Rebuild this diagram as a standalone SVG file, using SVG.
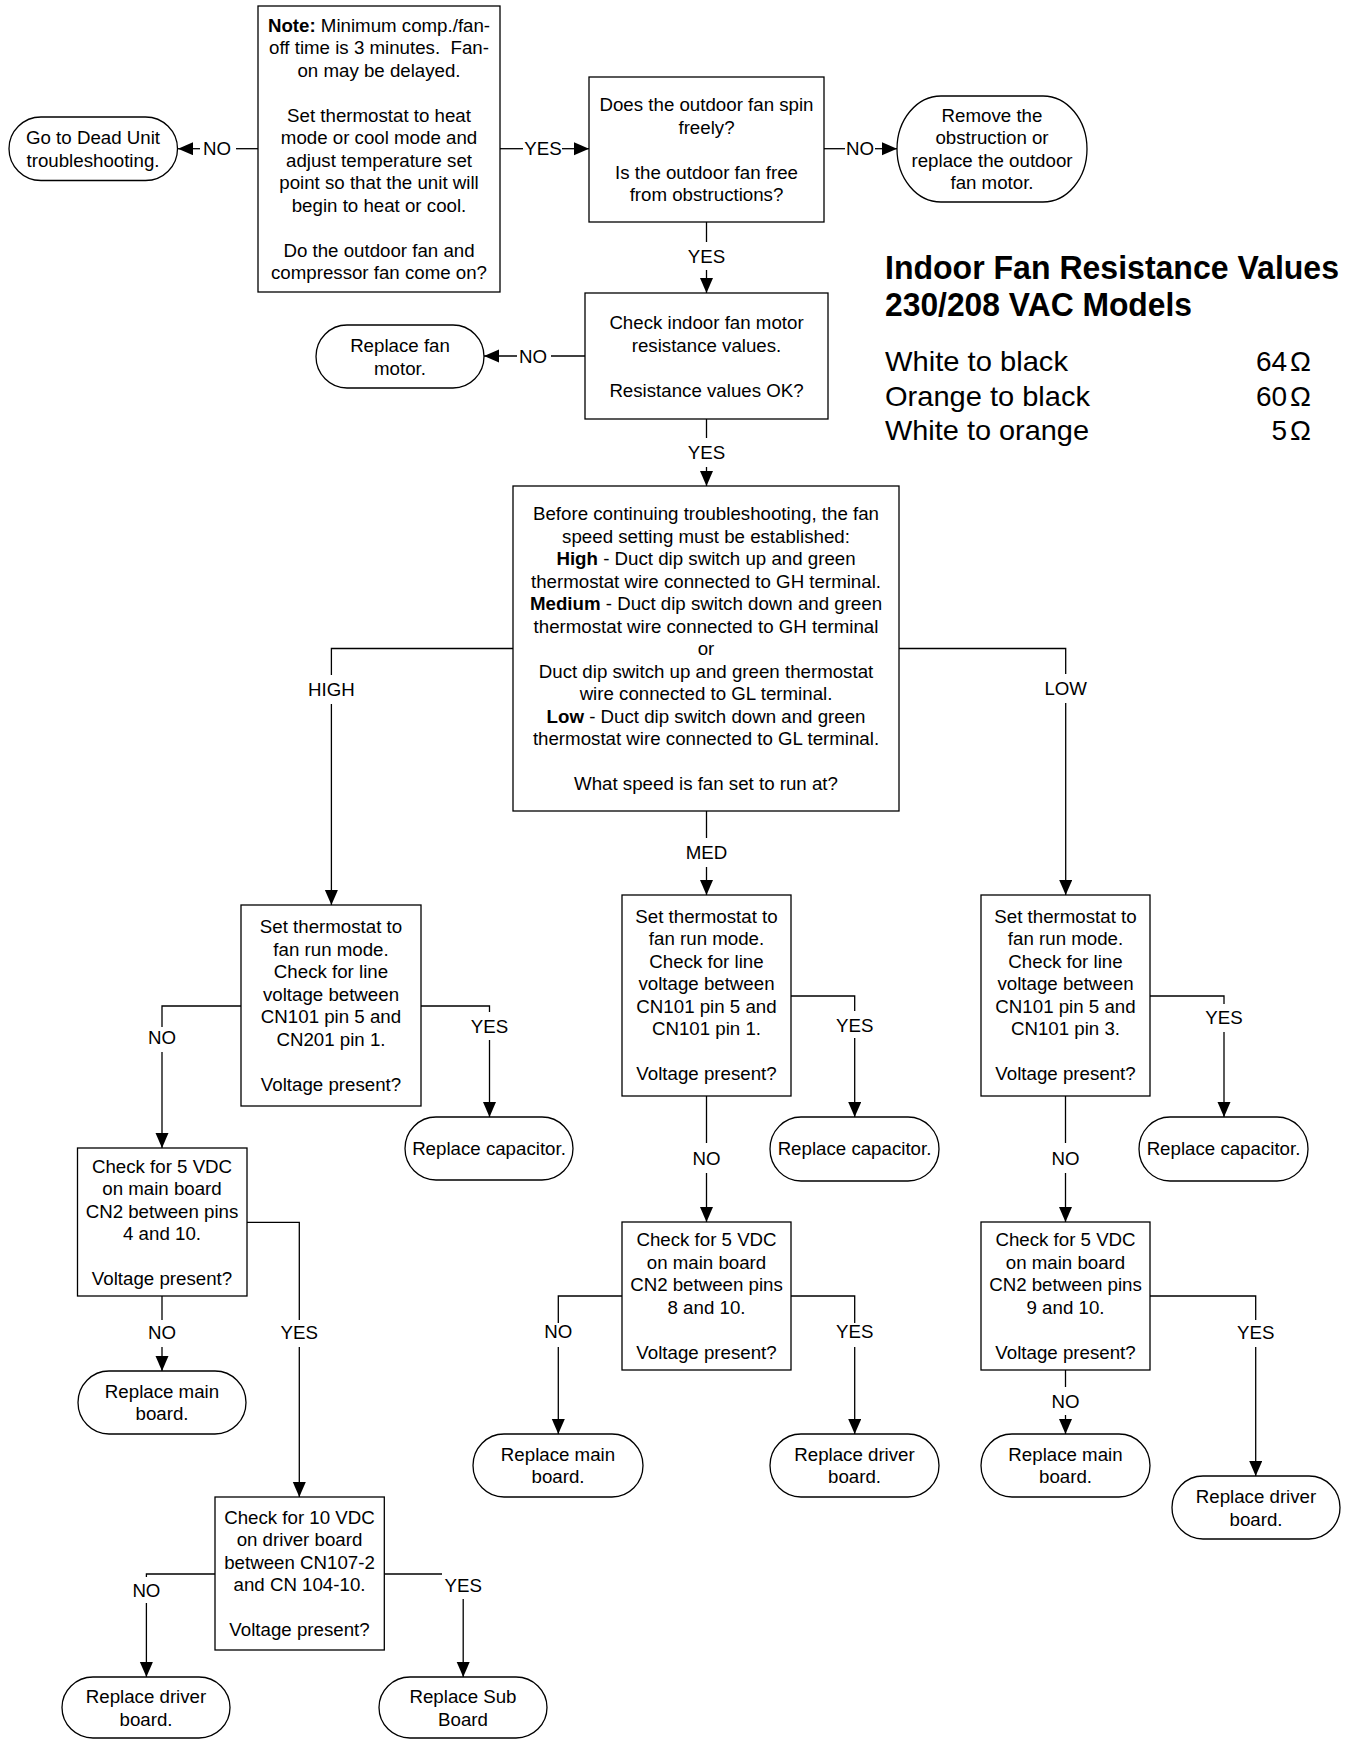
<svg xmlns="http://www.w3.org/2000/svg" width="1351" height="1739" viewBox="0 0 1351 1739">
<defs>
<style>
.t{font-family:"Liberation Sans",Arial,sans-serif;font-size:18.7px;fill:#000;text-anchor:middle}
.b{font-weight:bold}
.box{fill:#fff;stroke:#000;stroke-width:1.3}
.ln{fill:none;stroke:#000;stroke-width:1.3}
.h{font-family:"Liberation Sans",Arial,sans-serif;font-weight:bold;font-size:33px;fill:#000}
.r{font-family:"Liberation Sans",Arial,sans-serif;font-size:28px;fill:#000}
</style>
<marker id="arr" markerUnits="userSpaceOnUse" markerWidth="16" markerHeight="14" refX="15" refY="6.5" orient="auto"><path d="M0,0 L15,6.5 L0,13 z" fill="#000"/></marker>
</defs>
<rect width="1351" height="1739" fill="#fff"/>

<g id="connectors">
<path class="ln" d="M258,148.7 H236"/><text class="t" x="217" y="155.4">NO</text><path class="ln" d="M200,148.7 H178" marker-end="url(#arr)"/>
<path class="ln" d="M500,148.7 H523"/><text class="t" x="543" y="155.4">YES</text><path class="ln" d="M562,148.7 H589" marker-end="url(#arr)"/>
<path class="ln" d="M824,148.7 H845"/><text class="t" x="860" y="155.4">NO</text><path class="ln" d="M875,148.7 H897" marker-end="url(#arr)"/>
<path class="ln" d="M706.5,222 V242"/><text class="t" x="706.5" y="263.4">YES</text><path class="ln" d="M706.5,270 V293" marker-end="url(#arr)"/>
<path class="ln" d="M585,356 H551"/><text class="t" x="533" y="362.7">NO</text><path class="ln" d="M517,356 H484" marker-end="url(#arr)"/>
<path class="ln" d="M706.5,419 V438"/><text class="t" x="706.5" y="459.4">YES</text><path class="ln" d="M706.5,467 V486" marker-end="url(#arr)"/>
<path class="ln" d="M513,648.5 H331.4 V675"/><text class="t" x="331.4" y="695.7">HIGH</text><path class="ln" d="M331.4,704 V905" marker-end="url(#arr)"/>
<path class="ln" d="M706.5,811 V838"/><text class="t" x="706.5" y="859">MED</text><path class="ln" d="M706.5,867 V895" marker-end="url(#arr)"/>
<path class="ln" d="M899,648.5 H1065.7 V674"/><text class="t" x="1065.7" y="694.5">LOW</text><path class="ln" d="M1065.7,703 V895" marker-end="url(#arr)"/>
<path class="ln" d="M241,1006 H162 V1027"/><text class="t" x="162" y="1044.4">NO</text><path class="ln" d="M162,1052 V1148" marker-end="url(#arr)"/>
<path class="ln" d="M421,1006 H489.5 V1012"/><text class="t" x="489.5" y="1032.7">YES</text><path class="ln" d="M489.5,1040 V1117" marker-end="url(#arr)"/>
<path class="ln" d="M791,996 H854.7 V1011"/><text class="t" x="854.7" y="1031.7">YES</text><path class="ln" d="M854.7,1038 V1117" marker-end="url(#arr)"/>
<path class="ln" d="M706.5,1096 V1143"/><text class="t" x="706.5" y="1165">NO</text><path class="ln" d="M706.5,1173 V1222" marker-end="url(#arr)"/>
<path class="ln" d="M1150,996 H1224 V1004"/><text class="t" x="1224" y="1024.4">YES</text><path class="ln" d="M1224,1032 V1117" marker-end="url(#arr)"/>
<path class="ln" d="M1065.5,1096 V1143"/><text class="t" x="1065.5" y="1165">NO</text><path class="ln" d="M1065.5,1173 V1222" marker-end="url(#arr)"/>
<path class="ln" d="M162,1296 V1320"/><text class="t" x="162" y="1339.4">NO</text><path class="ln" d="M162,1347 V1371" marker-end="url(#arr)"/>
<path class="ln" d="M247,1222.3 H299.3 V1320"/><text class="t" x="299.3" y="1339.4">YES</text><path class="ln" d="M299.3,1347 V1497" marker-end="url(#arr)"/>
<path class="ln" d="M622,1296 H558.3 V1323"/><text class="t" x="558.3" y="1338.4">NO</text><path class="ln" d="M558.3,1347 V1434" marker-end="url(#arr)"/>
<path class="ln" d="M791,1296 H854.7 V1323"/><text class="t" x="854.7" y="1338.4">YES</text><path class="ln" d="M854.7,1347 V1434" marker-end="url(#arr)"/>
<path class="ln" d="M1065.5,1370 V1387"/><text class="t" x="1065.5" y="1408.4">NO</text><path class="ln" d="M1065.5,1415 V1434" marker-end="url(#arr)"/>
<path class="ln" d="M1150,1296 H1255.7 V1320"/><text class="t" x="1255.7" y="1339">YES</text><path class="ln" d="M1255.7,1347 V1476" marker-end="url(#arr)"/>
<path class="ln" d="M215,1574 H146.4 V1577"/><text class="t" x="146.4" y="1597.4">NO</text><path class="ln" d="M146.4,1603 V1677" marker-end="url(#arr)"/>
<path class="ln" d="M384.3,1574 H442"/><text class="t" x="463.2" y="1592.4">YES</text><path class="ln" d="M463.2,1599 V1677" marker-end="url(#arr)"/>
</g>

<g id="note">
<rect class="box" x="258" y="6" width="242" height="286"/>
<text class="t"><tspan x="379" y="31.7"><tspan class="b">Note:</tspan> Minimum comp./fan-</tspan><tspan x="379" y="54.2">off time is 3 minutes.&#160; Fan-</tspan><tspan x="379" y="76.7">on may be delayed.</tspan><tspan x="379" y="121.7">Set thermostat to heat</tspan><tspan x="379" y="144.2">mode or cool mode and</tspan><tspan x="379" y="166.7">adjust temperature set</tspan><tspan x="379" y="189.2">point so that the unit will</tspan><tspan x="379" y="211.7">begin to heat or cool.</tspan><tspan x="379" y="256.7">Do the outdoor fan and</tspan><tspan x="379" y="279.2">compressor fan come on?</tspan></text>
</g>
<g id="dead">
<rect class="box" x="9" y="117" width="168.5" height="63.5" rx="32" ry="31.75"/>
<text class="t"><tspan x="93" y="144">Go to Dead Unit</tspan><tspan x="93" y="166.7">troubleshooting.</tspan></text>
</g>
<g id="outdoor">
<rect class="box" x="589" y="77" width="235" height="145"/>
<text class="t"><tspan x="706.5" y="111">Does the outdoor fan spin</tspan><tspan x="706.5" y="133.5">freely?</tspan><tspan x="706.5" y="178.5">Is the outdoor fan free</tspan><tspan x="706.5" y="201">from obstructions?</tspan></text>
</g>
<g id="remove">
<rect class="box" x="897" y="96" width="190" height="106" rx="44" ry="53"/>
<text class="t"><tspan x="992" y="121.7">Remove the</tspan><tspan x="992" y="144.2">obstruction or</tspan><tspan x="992" y="166.7">replace the outdoor</tspan><tspan x="992" y="189.2">fan motor.</tspan></text>
</g>
<g id="indoor">
<rect class="box" x="585" y="293" width="243" height="126"/>
<text class="t"><tspan x="706.5" y="329.4">Check indoor fan motor</tspan><tspan x="706.5" y="351.9">resistance values.</tspan><tspan x="706.5" y="396.9">Resistance values OK?</tspan></text>
</g>
<g id="fanmotor">
<rect class="box" x="316" y="325" width="168" height="63" rx="31" ry="31.5"/>
<text class="t"><tspan x="400" y="352.4">Replace fan</tspan><tspan x="400" y="375">motor.</tspan></text>
</g>
<g id="resistance">
<text class="h" x="885" y="279" textLength="454" lengthAdjust="spacingAndGlyphs">Indoor Fan Resistance Values</text>
<text class="h" x="885" y="316" textLength="307" lengthAdjust="spacingAndGlyphs">230/208 VAC Models</text>
<text class="r" x="885" y="371" textLength="183" lengthAdjust="spacingAndGlyphs">White to black</text>
<text class="r" x="885" y="406" textLength="205" lengthAdjust="spacingAndGlyphs">Orange to black</text>
<text class="r" x="885" y="440" textLength="204" lengthAdjust="spacingAndGlyphs">White to orange</text>
<text class="r" x="1311" y="371" text-anchor="end">64<tspan dx="3">Ω</tspan></text>
<text class="r" x="1311" y="406" text-anchor="end">60<tspan dx="3">Ω</tspan></text>
<text class="r" x="1311" y="440" text-anchor="end">5<tspan dx="3">Ω</tspan></text>
</g>
<g id="speed">
<rect class="box" x="513" y="486" width="386" height="325"/>
<text class="t"><tspan x="706" y="520">Before continuing troubleshooting, the fan</tspan><tspan x="706" y="542.5">speed setting must be established:</tspan><tspan x="706" y="565"><tspan class="b">High</tspan> - Duct dip switch up and green</tspan><tspan x="706" y="587.5">thermostat wire connected to GH terminal.</tspan><tspan x="706" y="610"><tspan class="b">Medium</tspan> - Duct dip switch down and green</tspan><tspan x="706" y="632.5">thermostat wire connected to GH terminal</tspan><tspan x="706" y="655">or</tspan><tspan x="706" y="677.5">Duct dip switch up and green thermostat</tspan><tspan x="706" y="700">wire connected to GL terminal.</tspan><tspan x="706" y="722.5"><tspan class="b">Low</tspan> - Duct dip switch down and green</tspan><tspan x="706" y="745">thermostat wire connected to GL terminal.</tspan><tspan x="706" y="790">What speed is fan set to run at?</tspan></text>
</g>
<g id="high">
<rect class="box" x="241" y="905" width="180" height="201"/>
<text class="t"><tspan x="331" y="933.4">Set thermostat to</tspan><tspan x="331" y="955.9">fan run mode.</tspan><tspan x="331" y="978.4">Check for line</tspan><tspan x="331" y="1000.9">voltage between</tspan><tspan x="331" y="1023.4">CN101 pin 5 and</tspan><tspan x="331" y="1045.9">CN201 pin 1.</tspan><tspan x="331" y="1090.9">Voltage present?</tspan></text>
</g>
<g id="med">
<rect class="box" x="622" y="895" width="169" height="201"/>
<text class="t"><tspan x="706.5" y="922.7">Set thermostat to</tspan><tspan x="706.5" y="945.2">fan run mode.</tspan><tspan x="706.5" y="967.7">Check for line</tspan><tspan x="706.5" y="990.2">voltage between</tspan><tspan x="706.5" y="1012.7">CN101 pin 5 and</tspan><tspan x="706.5" y="1035.2">CN101 pin 1.</tspan><tspan x="706.5" y="1080.2">Voltage present?</tspan></text>
</g>
<g id="low">
<rect class="box" x="981" y="895" width="169" height="201"/>
<text class="t"><tspan x="1065.5" y="922.7">Set thermostat to</tspan><tspan x="1065.5" y="945.2">fan run mode.</tspan><tspan x="1065.5" y="967.7">Check for line</tspan><tspan x="1065.5" y="990.2">voltage between</tspan><tspan x="1065.5" y="1012.7">CN101 pin 5 and</tspan><tspan x="1065.5" y="1035.2">CN101 pin 3.</tspan><tspan x="1065.5" y="1080.2">Voltage present?</tspan></text>
</g>
<g id="capH">
<rect class="box" x="405" y="1117" width="168" height="63" rx="31" ry="31.5"/>
<text class="t" x="489" y="1154.7">Replace capacitor.</text>
</g>
<g id="capM">
<rect class="box" x="770" y="1117" width="169" height="64" rx="31" ry="32"/>
<text class="t" x="854.5" y="1154.7">Replace capacitor.</text>
</g>
<g id="capL">
<rect class="box" x="1139" y="1117" width="169" height="64" rx="31" ry="32"/>
<text class="t" x="1223.5" y="1154.7">Replace capacitor.</text>
</g>
<g id="vdcH">
<rect class="box" x="77.5" y="1148" width="169.5" height="148"/>
<text class="t"><tspan x="162" y="1172.7">Check for 5 VDC</tspan><tspan x="162" y="1195.2">on main board</tspan><tspan x="162" y="1217.7">CN2 between pins</tspan><tspan x="162" y="1240.2">4 and 10.</tspan><tspan x="162" y="1285.2">Voltage present?</tspan></text>
</g>
<g id="vdcM">
<rect class="box" x="622" y="1222" width="169" height="148"/>
<text class="t"><tspan x="706.5" y="1246.2">Check for 5 VDC</tspan><tspan x="706.5" y="1268.7">on main board</tspan><tspan x="706.5" y="1291.2">CN2 between pins</tspan><tspan x="706.5" y="1313.7">8 and 10.</tspan><tspan x="706.5" y="1358.7">Voltage present?</tspan></text>
</g>
<g id="vdcL">
<rect class="box" x="981" y="1222" width="169" height="148"/>
<text class="t"><tspan x="1065.5" y="1246.2">Check for 5 VDC</tspan><tspan x="1065.5" y="1268.7">on main board</tspan><tspan x="1065.5" y="1291.2">CN2 between pins</tspan><tspan x="1065.5" y="1313.7">9 and 10.</tspan><tspan x="1065.5" y="1358.7">Voltage present?</tspan></text>
</g>
<g id="mainH">
<rect class="box" x="78" y="1371" width="168" height="63" rx="31" ry="31.5"/>
<text class="t"><tspan x="162" y="1397.7">Replace main</tspan><tspan x="162" y="1420.2">board.</tspan></text>
</g>
<g id="mainM">
<rect class="box" x="473" y="1434" width="170" height="63" rx="31" ry="31.5"/>
<text class="t"><tspan x="558" y="1460.7">Replace main</tspan><tspan x="558" y="1483.2">board.</tspan></text>
</g>
<g id="drvM">
<rect class="box" x="770" y="1434" width="169" height="63" rx="31" ry="31.5"/>
<text class="t"><tspan x="854.5" y="1460.7">Replace driver</tspan><tspan x="854.5" y="1483.2">board.</tspan></text>
</g>
<g id="mainL">
<rect class="box" x="981" y="1434" width="169" height="63" rx="31" ry="31.5"/>
<text class="t"><tspan x="1065.5" y="1460.7">Replace main</tspan><tspan x="1065.5" y="1483.2">board.</tspan></text>
</g>
<g id="drvL">
<rect class="box" x="1172" y="1476" width="168" height="63" rx="31" ry="31.5"/>
<text class="t"><tspan x="1256" y="1503.4">Replace driver</tspan><tspan x="1256" y="1525.9">board.</tspan></text>
</g>
<g id="vdc10">
<rect class="box" x="215" y="1497" width="169.3" height="153"/>
<text class="t"><tspan x="299.5" y="1523.7">Check for 10 VDC</tspan><tspan x="299.5" y="1546.2">on driver board</tspan><tspan x="299.5" y="1568.7">between CN107-2</tspan><tspan x="299.5" y="1591.2">and CN 104-10.</tspan><tspan x="299.5" y="1636.2">Voltage present?</tspan></text>
</g>
<g id="drvH">
<rect class="box" x="62" y="1677" width="168" height="61" rx="31" ry="30.5"/>
<text class="t"><tspan x="146" y="1703.4">Replace driver</tspan><tspan x="146" y="1726">board.</tspan></text>
</g>
<g id="sub">
<rect class="box" x="379" y="1677" width="168" height="61" rx="31" ry="30.5"/>
<text class="t"><tspan x="463" y="1703.4">Replace Sub</tspan><tspan x="463" y="1726">Board</tspan></text>
</g>
</svg>
